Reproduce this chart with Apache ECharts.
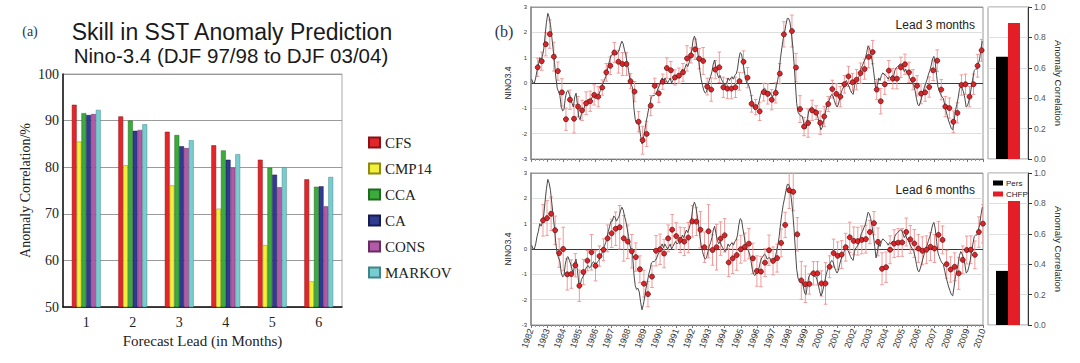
<!DOCTYPE html>
<html><head><meta charset="utf-8">
<script src="https://cdn.jsdelivr.net/npm/echarts@6/dist/echarts.min.js"></script>
<style>html,body{margin:0;padding:0;background:#fff}#c{width:1080px;height:363px}</style>
</head><body><div id="c"></div>
<script>
// ---------- Panel (a) data ----------
const leads = ['1','2','3','4','5','6'];
const cfs    = [93.4, 90.9, 87.6, 84.7, 81.6, 77.4];
const cmp14  = [85.5, 80.4, 76.1, 71.1, 63.3, 55.5];
const cca    = [91.6, 90.0, 86.9, 83.6, 79.9, 75.8];
const ca     = [91.2, 87.8, 84.5, 81.6, 78.4, 75.9];
const cons   = [91.4, 88.0, 84.1, 79.9, 75.7, 71.6];
const markov = [92.3, 89.2, 85.8, 82.8, 80.0, 77.9];
const yTicksA = [50, 60, 70, 80, 90, 100];

// ---------- Panel (b) data ----------
const years = [1982,1983,1984,1985,1986,1987,1988,1989,1990,1991,1992,1993,1994,1995,1996,1997,1998,1999,2000,2001,2002,2003,2004,2005,2006,2007,2008,2009,2010];
// observed monthly NINO3.4 (Jan..Dec per row)
const obs = [
 0.15, 0.0, 0.0, 0.2, 0.5, 0.7, 1.0, 0.9, 1.05, 1.35, 1.9, 2.4,
 2.75, 2.6, 2.3, 1.8, 1.3, 0.8, 0.2, -0.2, -0.35, -0.5, -0.95, -1.1,
 -1.05, -0.6, -0.35, -0.3, -0.45, -0.6, -0.8, -0.95, -0.55, -0.4, -0.85, -1.35,
 -1.45, -1.2, -1.1, -1.0, -0.8, -0.7, -0.65, -0.75, -0.7, -0.55, -0.5, -0.6,
 -0.6, -0.5, -0.45, -0.3, -0.2, 0.0, 0.1, 0.25, 0.45, 0.7, 0.9, 1.1,
 1.1, 1.3, 1.25, 1.1, 1.2, 1.3, 1.5, 1.65, 1.55, 1.3, 1.1, 0.8,
 0.5, 0.15, -0.05, -0.2, -1.0, -1.45, -1.6, -1.55, -1.7, -2.1, -2.4, -2.2,
 -1.9, -1.55, -1.3, -1.0, -0.8, -0.55, -0.5, -0.5, -0.45, -0.35, -0.2, -0.1,
 0.1, 0.2, 0.05, 0.2, 0.1, 0.0, 0.1, 0.2, 0.0, 0.1, 0.2, 0.3,
 0.2, 0.25, 0.2, 0.35, 0.55, 0.45, 0.6, 0.75, 0.65, 0.8, 1.0, 1.3,
 1.7, 1.85, 1.7, 1.35, 1.0, 0.5, 0.15, -0.1, -0.3, -0.4, -0.35, -0.1,
 0.1, 0.25, 0.45, 0.75, 0.9, 0.6, 0.35, 0.2, 0.3, 0.15, 0.05, -0.05,
 -0.1, 0.0, 0.2, 0.1, 0.2, 0.25, 0.15, 0.3, 0.35, 0.55, 0.95, 1.2,
 1.15, 0.8, 0.5, 0.15, 0.0, -0.05, -0.2, -0.45, -0.8, -1.0, -1.05, -0.95,
 -0.9, -0.75, -0.5, -0.35, -0.3, -0.2, -0.25, -0.4, -0.35, -0.35, -0.45, -0.55,
 -0.45, -0.35, -0.1, 0.15, 0.5, 1.0, 1.4, 1.75, 2.0, 2.3, 2.55, 2.55,
 2.4, 2.0, 1.5, 0.8, 0.0, -0.8, -1.15, -1.25, -1.3, -1.3, -1.5, -1.75,
 -1.8, -1.4, -1.1, -1.0, -0.95, -1.0, -1.1, -1.05, -1.2, -1.4, -1.65, -1.85,
 -1.75, -1.5, -1.25, -1.0, -0.8, -0.7, -0.55, -0.45, -0.5, -0.7, -0.85, -0.95,
 -0.85, -0.6, -0.4, -0.25, -0.15, 0.05, 0.1, -0.05, -0.15, -0.3, -0.4, -0.45,
 -0.1, 0.05, 0.1, 0.2, 0.4, 0.6, 0.7, 0.85, 0.95, 1.2, 1.45, 1.4,
 1.2, 0.9, 0.55, 0.1, -0.35, -0.1, 0.2, 0.1, 0.3, 0.4, 0.35, 0.3,
 0.25, 0.15, 0.25, 0.2, 0.3, 0.25, 0.5, 0.6, 0.65, 0.7, 0.75, 0.75,
 0.6, 0.45, 0.55, 0.4, 0.35, 0.2, 0.1, 0.0, -0.1, -0.3, -0.6, -0.85,
 -0.9, -0.75, -0.55, -0.35, -0.15, 0.0, 0.15, 0.35, 0.5, 0.7, 0.95, 1.05,
 0.8, 0.3, -0.15, -0.3, -0.45, -0.55, -0.6, -0.85, -1.1, -1.3, -1.5, -1.65,
 -1.8, -1.85, -1.5, -1.1, -0.85, -0.6, -0.25, -0.1, -0.2, -0.35, -0.6, -0.95,
 -0.9, -0.7, -0.45, -0.1, 0.2, 0.5, 0.55, 0.55, 0.75, 0.95, 1.35, 1.65
];
// seasonal forecasts, sampled every quarter starting at lead3Start / lead6Start
const lead3Start = 1982.415, lead6Start = 1982.745, fcStep = 0.25;
const lead3 = [
 0.62, 0.86, 1.53, 1.93, 1.04, 0.47, -0.37, -1.43, -0.66, -1.41,
 -0.93, -1.08, -0.80, -0.72, -0.47, -0.54, -0.18, 0.42, 0.68, 1.20,
 0.84, 0.75, 0.75, 0.07, -0.34, -1.53, -2.26, -2.01, -0.89, -0.11,
 -0.41, 0.05, 0.59, 0.50, 0.22, 0.29, 0.42, 0.97, 1.09, 1.33,
 0.96, 0.87, -0.14, -0.26, 0.53, 0.62, -0.17, -0.22, -0.22, -0.17,
 0.07, 0.84, 0.21, -0.82, -0.95, -1.12, -0.36, -0.43, -0.66, -0.39,
 0.37, 1.92, null, 2.05, 0.61, -1.03, -1.72, -1.58, -1.08, -1.17,
 -1.57, -1.32, -0.83, -0.24, -0.43, -0.54, -0.05, 0.26, 0.03, 0.13,
 0.39, 0.55, 1.03, 1.22, -0.26, -0.72, -0.05, 0.49, 0.17, 0.17,
 0.62, 0.74, 0.42, 0.13, -0.11, -0.42, -0.37, -0.16, 0.50, 0.88,
 -0.26, -0.93, -0.99, -1.53, -1.18, -0.08, -0.05, -0.54, -0.05, 0.68, 1.29
];
const lead3Err = [
 0.36, 0.36, 0.46, 0.56, 0.57, 0.36, 0.54, 0.44, 0.38, 0.56,
 0.40, 0.40, 0.45, 0.40, 0.40, 0.40, 0.30, 0.35, 0.35, 0.40,
 0.45, 0.45, 0.45, 0.30, 0.40, 0.40, 0.55, 0.50, 0.40, 0.30,
 0.35, 0.30, 0.40, 0.35, 0.30, 0.30, 0.35, 0.50, 0.30, 0.40,
 0.40, 0.53, 0.33, 0.46, 0.36, 0.60, 0.40, 0.40, 0.40, 0.40,
 0.35, 0.43, 0.40, 0.33, 0.30, 0.36, 0.35, 0.40, 0.40, 0.40,
 0.40, 0.50, null, 0.63, 0.56, 0.53, 0.36, 0.56, 0.40, 0.27,
 0.46, 0.40, 0.30, 0.35, 0.40, 0.40, 0.35, 0.40, 0.35, 0.40,
 0.40, 0.40, 0.43, 0.46, 0.40, 0.50, 0.40, 0.40, 0.40, 0.40,
 0.40, 0.40, 0.40, 0.40, 0.40, 0.40, 0.35, 0.40, 0.40, 0.43,
 0.40, 0.40, 0.40, 0.43, 0.40, 0.40, 0.40, 0.40, 0.40, 0.45, 0.43
];
const lead6 = [
 1.13, 1.22, 1.39, 0.74, -0.16, 0.00, -1.00, -0.99, -0.64, -1.45,
 -0.91, -0.46, -0.13, -0.66, -0.28, -0.03, 0.42, 0.62, 0.80, 0.86,
 0.42, 0.29, -0.09, -0.32, -0.80, -1.37, -1.78, -1.09, -0.07, -0.01,
 -0.18, 0.42, 0.76, 0.51, 0.36, 0.29, 0.45, 1.09, 1.08, 0.76,
 0.07, 0.70, -0.04, 0.07, 0.41, 0.54, -0.53, -0.37, -0.24, -0.01,
 0.08, 0.21, -0.37, -0.87, -0.89, -0.54, -0.05, -0.47, -0.36, 0.24,
 0.95, 2.32, 2.26, 0.58, -1.24, -1.39, -1.38, -0.96, -0.96, -1.36,
 -1.36, -0.70, -0.16, -0.27, -0.22, 0.07, 0.46, 0.32, 0.31, 0.36,
 0.39, 0.67, 1.02, 0.28, -0.78, -0.72, -0.03, 0.21, 0.25, 0.26,
 0.67, 0.38, 0.22, 0.02, -0.07, -0.03, 0.09, 0.02, 0.56, 0.36,
 -0.60, -0.81, -0.70, -0.96, -0.43, -0.04, -0.03, -0.23, 0.67, 1.00
];
const lead6Err = [
 0.62, 0.69, 0.66, 0.56, 0.56, 0.86, 0.62, 0.56, 0.46, 0.62,
 0.50, 0.40, 0.70, 0.60, 0.40, 0.43, 0.53, 0.56, 0.66, 0.86,
 0.90, 0.66, 0.66, 0.56, 0.53, 0.53, 0.50, 0.43, 0.60, 0.60,
 0.56, 0.53, 0.60, 0.53, 0.50, 0.55, 0.60, 0.62, 0.55, 0.72,
 0.60, 1.05, 0.60, 0.90, 0.66, 0.66, 0.56, 0.60, 0.60, 0.55,
 0.55, 0.60, 0.60, 0.60, 0.60, 0.55, 0.60, 0.55, 0.55, 0.55,
 0.50, 0.72, 0.75, 0.66, 0.75, 0.72, 0.40, 0.46, 0.46, 0.50,
 0.82, 0.43, 0.55, 0.55, 0.55, 0.55, 0.60, 0.55, 0.55, 0.55,
 0.55, 0.46, 0.46, 0.55, 0.63, 0.60, 0.55, 0.55, 0.55, 0.55,
 0.55, 0.55, 0.55, 0.55, 0.55, 0.55, 0.55, 0.55, 0.53, 0.55,
 0.55, 0.50, 0.55, 0.63, 0.55, 0.55, 0.55, 0.55, 0.60, 0.76
];
// skill bars (anomaly correlation)
const skillNames = ['Pers', 'CHFP'];
const skillLead3 = [0.672, 0.895];
const skillLead6 = [0.356, 0.816];
const corrTicks = [0, 0.2, 0.4, 0.6, 0.8, 1.0];

// ---------- build ----------
const SERIF = '"Liberation Serif", "DejaVu Serif", serif';
const SANS = '"Liberation Sans", Arial, sans-serif';
const obsData = obs.map((v, i) => [years[0] + (i + 0.5) / 12, v]);
function fcData(start, vals, errs) {
  const out = [];
  vals.forEach((v, i) => { if (v !== null) out.push([start + i * fcStep, v, errs[i]]); });
  return out;
}
const fc3 = fcData(lead3Start, lead3, lead3Err);
const fc6 = fcData(lead6Start, lead6, lead6Err);

function errSeries(xi, yi, data) {
  return {
    type: 'custom', xAxisIndex: xi, yAxisIndex: yi, silent: true, clip: true, z: 2,
    encode: { x: 0, y: 1 },
    renderItem: function (params, api) {
      const x = api.value(0), y = api.value(1), e = api.value(2);
      const t = api.coord([x, y + e]), b = api.coord([x, y - e]);
      const w = 1.8, st = { stroke: '#f39a9a', lineWidth: 1 };
      return { type: 'group', children: [
        { type: 'line', shape: { x1: t[0], y1: t[1], x2: b[0], y2: b[1] }, style: st },
        { type: 'line', shape: { x1: t[0] - w, y1: t[1], x2: t[0] + w, y2: t[1] }, style: st },
        { type: 'line', shape: { x1: b[0] - w, y1: b[1], x2: b[0] + w, y2: b[1] }, style: st }
      ]};
    },
    data: data
  };
}
function lineSeries(xi, yi) {
  return { type: 'line', xAxisIndex: xi, yAxisIndex: yi, data: obsData, showSymbol: false,
    lineStyle: { color: '#4a4a4a', width: 1 }, z: 3, silent: true, animation: false };
}
function dotSeries(xi, yi, data) {
  return { type: 'scatter', xAxisIndex: xi, yAxisIndex: yi, data: data.map(d => [d[0], d[1]]),
    symbolSize: 5, itemStyle: { color: '#d8262a', borderColor: '#5a0a0a', borderWidth: 0.7, opacity: 1 }, z: 4, silent: true };
}
const tsGridLines = ['#999', '#dedede', '#dedede', '#3a3a3a', '#dedede', '#dedede', '#999'];
function tsX(gi, showLabels) {
  return { type: 'value', gridIndex: gi, min: years[0], max: years[years.length - 1], interval: 1,
    axisLine: { show: true, onZero: false, lineStyle: { color: '#777', width: 1 } },
    axisTick: { show: true, length: 3, lineStyle: { color: '#777' } },
    minorTick: { show: true, splitNumber: 4, length: 2, lineStyle: { color: '#999' } },
    splitLine: { show: false },
    axisLabel: { show: showLabels, rotate: 70, fontSize: 9, fontFamily: SANS, color: '#333', margin: 4,
      formatter: v => String(v) } };
}
function tsY(gi) {
  return { type: 'value', gridIndex: gi, min: -3, max: 3, interval: 1,
    name: 'NINO3.4', nameLocation: 'middle', nameGap: 19,
    nameTextStyle: { fontSize: 8.5, fontFamily: SANS, color: '#222' },
    axisLine: { show: true, onZero: false, lineStyle: { color: '#888', width: 1.5 } },
    axisTick: { show: false },
    axisLabel: { fontSize: 6, fontFamily: SANS, color: '#333', margin: 4 },
    splitLine: { show: true, lineStyle: { color: tsGridLines, width: 1 } } };
}
function skillX(gi) { return { type: 'category', gridIndex: gi, data: [''], show: false }; }
function skillY(gi) {
  return { type: 'value', gridIndex: gi, position: 'right', min: corrTicks[0], max: corrTicks[corrTicks.length - 1], interval: 0.2,
    name: 'Anomaly Correlation', nameLocation: 'middle', nameGap: 25, nameRotate: -90,
    nameTextStyle: { fontSize: 9.5, fontFamily: SANS, color: '#222' },
    axisLine: { show: true, lineStyle: { color: '#333', width: 1 } },
    axisTick: { show: true, length: 4, lineStyle: { color: '#333' } },
    axisLabel: { fontSize: 8.5, fontFamily: SANS, color: '#555', margin: 6, formatter: v => v.toFixed(1) },
    splitLine: { show: true, lineStyle: { color: '#dedede' } } };
}
function skillSeries(gi, vals) {
  return [
    { name: skillNames[0], type: 'bar', xAxisIndex: gi, yAxisIndex: gi, data: [vals[0]], barWidth: 12, barGap: '0%',
      itemStyle: { color: '#000000' }, silent: true },
    { name: skillNames[1], type: 'bar', xAxisIndex: gi, yAxisIndex: gi, data: [vals[1]], barWidth: 12, barGap: '0%',
      itemStyle: { color: '#e41e26' }, silent: true }
  ];
}
const aNames = ['CFS', 'CMP14', 'CCA', 'CA', 'CONS', 'MARKOV'];
const aVals = [cfs, cmp14, cca, ca, cons, markov];
const aColors = ['#e3262b', '#f2ef3d', '#3cab3c', '#2f3b8f', '#b15ba7', '#78cdd0'];
const aBorders = ['#8a1215', '#8f8a10', '#1e6a1e', '#151c50', '#6a2a62', '#3f8688'];
const aSeries = aNames.map((n, i) => ({
  name: n, type: 'bar', xAxisIndex: 0, yAxisIndex: 0, data: aVals[i], barWidth: 4.8, barGap: '0%',
  itemStyle: { color: aColors[i], borderColor: aBorders[i], borderWidth: 0.5 }, silent: true
}));

const option = {
  animation: false,
  backgroundColor: '#fff',
  grid: [
    { left: 63, top: 74, width: 279, height: 233, show: true, borderColor: '#aaa', borderWidth: 1 },
    { left: 531, top: 7, width: 452, height: 152, show: true, borderColor: '#999', borderWidth: 1 },
    { left: 531, top: 173, width: 452, height: 152, show: true, borderColor: '#999', borderWidth: 1 },
    { left: 988, top: 7, width: 40, height: 152, show: true, borderColor: '#999', borderWidth: 1 },
    { left: 988, top: 173, width: 40, height: 152, show: true, borderColor: '#999', borderWidth: 1 }
  ],
  xAxis: [
    { type: 'category', gridIndex: 0, data: leads,
      name: 'Forecast Lead (in Months)', nameLocation: 'middle', nameGap: 25,
      nameTextStyle: { fontSize: 15, fontFamily: SERIF, color: '#222' },
      axisLine: { show: true, lineStyle: { color: '#111', width: 1.5 } },
      axisTick: { show: false },
      axisLabel: { fontSize: 14, fontFamily: SERIF, color: '#222', margin: 8 } },
    tsX(1, false), tsX(2, true), skillX(3), skillX(4)
  ],
  yAxis: [
    { type: 'value', gridIndex: 0, min: yTicksA[0], max: yTicksA[yTicksA.length - 1], interval: 10,
      name: 'Anomaly Correlation/%', nameLocation: 'middle', nameGap: 31,
      nameTextStyle: { fontSize: 14, fontFamily: SERIF, color: '#222' },
      axisLine: { show: true, lineStyle: { color: '#111', width: 1.5 } },
      axisTick: { show: false },
      axisLabel: { fontSize: 14, fontFamily: SERIF, color: '#222', margin: 4 },
      splitLine: { show: true, lineStyle: { color: '#9a9a9a', width: 1 } } },
    tsY(1), tsY(2), skillY(3), skillY(4)
  ],
  legend: [
    { data: aNames, orient: 'vertical', left: 368, top: 135, padding: 0, itemWidth: 11, itemHeight: 10, itemGap: 11,
      icon: 'rect', textStyle: { fontSize: 15, fontFamily: SERIF, color: '#222' }, selectedMode: false },
    { data: skillNames, orient: 'vertical', left: 993, top: 179, padding: 0, itemWidth: 10, itemHeight: 5, itemGap: 3,
      icon: 'rect', textStyle: { fontSize: 8, fontFamily: SANS, color: '#222', padding: [0, 0, 0, -2] }, selectedMode: false }
  ],
  graphic: [
    { type: 'text', style: { text: '(a)', x: 30, y: 31, textAlign: 'center', textVerticalAlign: 'middle', verticalAlign: 'middle', font: '14px ' + SERIF, fill: '#2a3350' } },
    { type: 'text', style: { text: '(b)', x: 504, y: 31, textAlign: 'center', textVerticalAlign: 'middle', verticalAlign: 'middle', font: '16px ' + SERIF, fill: '#2a3350' } },
    { type: 'text', style: { text: 'Skill in SST Anomaly Prediction', x: 232, y: 32, textAlign: 'center', textVerticalAlign: 'middle', verticalAlign: 'middle', font: '23px ' + SANS, fill: '#1a1a1a' } },
    { type: 'text', style: { text: 'Nino-3.4 (DJF 97/98 to DJF 03/04)', x: 231, y: 55.5, textAlign: 'center', textVerticalAlign: 'middle', verticalAlign: 'middle', font: '20.5px ' + SANS, fill: '#1a1a1a' } },
    { type: 'text', style: { text: 'Lead 3 months', x: 975, y: 25, textAlign: 'right', textVerticalAlign: 'middle', verticalAlign: 'middle', font: '12px ' + SANS, fill: '#222' } },
    { type: 'text', style: { text: 'Lead 6 months', x: 975, y: 189.5, textAlign: 'right', textVerticalAlign: 'middle', verticalAlign: 'middle', font: '12px ' + SANS, fill: '#222' } }
  ],
  series: [
    ...aSeries,
    errSeries(1, 1, fc3), lineSeries(1, 1), dotSeries(1, 1, fc3),
    errSeries(2, 2, fc6), lineSeries(2, 2), dotSeries(2, 2, fc6),
    ...skillSeries(3, skillLead3), ...skillSeries(4, skillLead6)
  ]
};
const chart = echarts.init(document.getElementById('c'), null, { renderer: 'svg' });
chart.setOption(option);
</script></body></html>
